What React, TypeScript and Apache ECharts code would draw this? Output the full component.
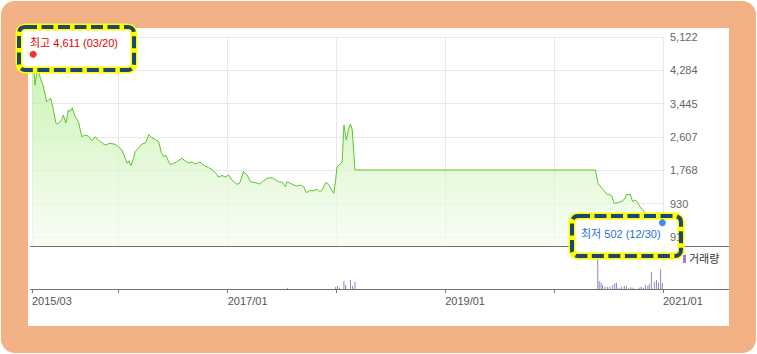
import React, { useEffect, useRef } from 'react';
import * as echarts from 'echarts';

const priceDates = [
  '2015-03-16', '2015-03-20', '2015-03-26', '2015-04-04', '2015-04-12', '2015-04-23', '2015-05-04', '2015-05-12',
  '2015-05-18', '2015-05-27', '2015-06-04', '2015-06-12', '2015-06-24', '2015-06-29', '2015-07-08', '2015-07-16',
  '2015-07-22', '2015-07-29', '2015-08-08', '2015-08-19', '2015-08-30', '2015-09-10', '2015-09-21', '2015-10-03',
  '2015-10-14', '2015-10-28', '2015-11-16', '2015-12-03', '2015-12-20', '2015-12-31', '2016-01-12', '2016-01-23',
  '2016-01-30', '2016-02-04', '2016-02-11', '2016-02-20', '2016-02-25', '2016-03-07', '2016-03-19', '2016-03-30',
  '2016-04-05', '2016-04-11', '2016-04-21', '2016-05-03', '2016-05-14', '2016-05-23', '2016-05-31', '2016-06-07',
  '2016-06-14', '2016-06-22', '2016-07-03', '2016-07-14', '2016-07-31', '2016-08-10', '2016-08-22', '2016-09-03',
  '2016-09-14', '2016-09-29', '2016-10-14', '2016-10-28', '2016-11-09', '2016-11-20', '2016-12-01', '2016-12-13',
  '2016-12-24', '2017-01-04', '2017-01-15', '2017-02-01', '2017-02-10', '2017-02-23', '2017-03-07', '2017-03-18',
  '2017-04-04', '2017-04-18', '2017-05-02', '2017-05-13', '2017-05-30', '2017-06-10', '2017-06-21', '2017-07-03',
  '2017-07-14', '2017-07-19', '2017-07-30', '2017-08-11', '2017-08-22', '2017-09-02', '2017-09-13', '2017-09-22',
  '2017-10-03', '2017-10-17', '2017-10-28', '2017-11-06', '2017-11-14', '2017-11-25', '2017-12-06', '2017-12-15',
  '2017-12-23', '2017-12-29', '2018-01-03', '2018-01-14', '2018-01-20', '2018-01-26', '2018-02-03', '2018-02-11',
  '2018-02-17', '2018-02-23', '2018-03-04', '2020-05-19', '2020-05-28', '2020-06-08', '2020-06-20', '2020-06-29',
  '2020-07-05', '2020-07-13', '2020-07-21', '2020-08-02', '2020-08-13', '2020-08-24', '2020-09-01', '2020-09-08',
  '2020-09-13', '2020-09-21', '2020-09-29', '2020-10-06', '2020-10-14', '2020-10-25', '2020-11-03', '2020-11-15',
  '2020-11-28', '2020-12-12', '2020-12-30',
];
const priceValues = [
  4470, 4611, 3915, 4393, 4116, 3889, 3487, 3550,
  3580, 3286, 2959, 2934, 3047, 3160, 2959, 3286,
  3248, 3344, 3117, 2991, 2614, 2657, 2632, 2513,
  2614, 2506, 2405, 2448, 2423, 2362, 2279, 2071,
  1945, 2010, 1885, 2071, 2237, 2322, 2430, 2456,
  2549, 2669, 2589, 2544, 2493, 2217, 2111, 2154,
  2028, 1915, 1945, 1985, 2071, 2015, 1953, 1978,
  1927, 1978, 1890, 1839, 1789, 1713, 1600, 1638,
  1600, 1651, 1525, 1417, 1442, 1734, 1651, 1482,
  1457, 1424, 1507, 1568, 1583, 1525, 1482, 1467,
  1356, 1482, 1442, 1399, 1374, 1399, 1356, 1205,
  1256, 1256, 1291, 1231, 1273, 1457, 1417, 1273,
  1190, 1520, 1859, 1927, 1985, 2908, 2531, 2825,
  2934, 2783, 1776, 1776, 1442, 1336, 1230, 1148,
  1165, 1122, 939, 954, 979, 1039, 1165, 1148,
  1173, 979, 1022, 979, 871, 770, 702, 644,
  619, 544, 502,
];

const volumeDates = [
  '2017-07-21', '2017-12-29', '2018-01-04', '2018-01-11', '2018-01-26', '2018-02-01', '2018-02-17', '2018-02-24',
  '2018-03-04', '2020-05-27', '2020-06-01', '2020-06-07', '2020-06-12', '2020-06-20', '2020-06-29', '2020-07-07',
  '2020-07-16', '2020-07-23', '2020-07-29', '2020-08-07', '2020-08-15', '2020-08-24', '2020-08-31', '2020-09-08',
  '2020-09-15', '2020-09-23', '2020-10-13', '2020-10-19', '2020-10-27', '2020-11-03', '2020-11-11', '2020-11-16',
  '2020-11-23', '2020-12-03', '2020-12-10', '2020-12-17', '2020-12-24', '2020-12-30',
];
const volumeValues = [
  13, 20, 30, 13, 80, 40, 90, 30,
  73, 360, 80, 63, 40, 23, 23, 23,
  40, 57, 63, 13, 23, 30, 30, 7,
  17, 13, 13, 23, 13, 40, 30, 50,
  173, 73, 90, 63, 200, 60,
];

const yTickValues = [91, 930, 1768, 2607, 3445, 4284, 5122];
const xStartDate = '2015-03-16';
const xEndDate = '2021-01-01';
const xGridDates = ['2015-03-16', '2016-01-01', '2017-01-01', '2018-01-01', '2019-01-01', '2020-01-01', '2021-01-01'];
const xLabelDates = ['2015-03-16', '2017-01-01', '2019-01-01', '2021-01-01'];

const highDate = '2015-03-20';
const highValue = 4611;
const highText = '최고 4,611 (03/20)';
const lowDate = '2020-12-30';
const lowValue = 502;
const lowText = '최저 502 (12/30)';
const volumeLegend = '거래량';

const ts = (d: string) => Date.parse(d + 'T00:00:00Z');
const FONT = '"Liberation Sans", "Noto Sans CJK KR", sans-serif';

export default function App() {
  const ref = useRef<HTMLDivElement>(null);

  useEffect(() => {
    if (!ref.current) return;
    const chart = echarts.init(ref.current, undefined, { renderer: 'svg' });
    const xMin = ts(xStartDate);
    const xMax = ts(xEndDate);
    const gridVals = xGridDates.map(ts);
    const labelVals = xLabelDates.map(ts);

    const option: any = {
      animation: false,
      grid: [
        { left: 32, right: 94, top: 37, height: 209.5, containLabel: false, outerBoundsMode: 'none' },
        { left: 32, right: 94, top: 247, height: 42, containLabel: false, outerBoundsMode: 'none' },
      ],
      xAxis: [
        {
          type: 'value', gridIndex: 0, min: xMin, max: xMax,
          axisLine: { show: false },
          axisTick: { show: false, customValues: gridVals },
          axisLabel: { show: false },
          splitLine: { show: true, lineStyle: { color: '#e8e8e8', width: 1 } },
        },
        {
          type: 'value', gridIndex: 1, min: xMin, max: xMax,
          axisLine: { show: false },
          axisTick: { show: true, customValues: gridVals, length: 4, inside: false, lineStyle: { color: '#777', width: 1 } },
          axisLabel: {
            customValues: labelVals,
            formatter: (v: number) => {
              const d = new Date(v);
              return d.getUTCFullYear() + '/' + String(d.getUTCMonth() + 1).padStart(2, '0');
            },
            color: '#555', fontSize: 11, fontFamily: FONT, align: 'left', margin: 6,
          },
          splitLine: { show: false },
        },
      ],
      yAxis: [
        {
          type: 'value', gridIndex: 0, min: -148, max: 5122, position: 'right',
          axisLine: { show: false },
          axisTick: { show: false, customValues: yTickValues },
          axisLabel: { show: false },
          splitLine: { show: true, lineStyle: { color: '#e8e8e8', width: 1 } },
        },
        {
          type: 'value', gridIndex: 0, min: -148, max: 5122, position: 'right', z: 10,
          axisLine: { show: false },
          axisTick: { show: false },
          axisLabel: {
            customValues: yTickValues,
            formatter: (v: number) => Math.round(v).toLocaleString('en-US'),
            color: '#666', fontSize: 11, fontFamily: FONT, margin: 7,
          },
          splitLine: { show: false },
        },
        { type: 'value', gridIndex: 1, min: 0, max: 420, show: false, splitLine: { show: false } },
      ],
      series: [
        {
          type: 'line', xAxisIndex: 0, yAxisIndex: 0, z: 2,
          data: priceDates.map((d, i) => [ts(d), priceValues[i]]),
          showSymbol: false, symbol: 'none',
          lineStyle: { color: '#5dc52a', width: 1 },
          areaStyle: {
            origin: 'start',
            color: new echarts.graphic.LinearGradient(0, 0, 0, 1, [
              { offset: 0, color: '#b6ed95' },
              { offset: 1, color: '#f6fdf1' },
            ]),
          },
        },
        {
          type: 'scatter', xAxisIndex: 0, yAxisIndex: 0, z: 8,
          data: [[ts(highDate), highValue]], symbolSize: 7, symbolOffset: [0, -3],
          itemStyle: { color: '#f00000' },
        },
        {
          type: 'scatter', xAxisIndex: 0, yAxisIndex: 0, z: 8,
          data: [[ts(lowDate), lowValue]], symbolSize: 7, symbolOffset: [0, 2],
          itemStyle: { color: '#1b6fe0' },
        },
        {
          type: 'bar', xAxisIndex: 1, yAxisIndex: 2, z: 2,
          data: volumeDates.map((d, i) => [ts(d), volumeValues[i]]),
          barWidth: 1,
          itemStyle: { color: '#9a80c8' },
        },
      ],
      graphic: {
        elements: [
          { type: 'rect', silent: true, z: -100, shape: { x: 1, y: 1, width: 755, height: 352, r: 14 }, style: { fill: '#F3B285' } },
          { type: 'rect', silent: true, z: -99, shape: { x: 28, y: 28, width: 701, height: 298 }, style: { fill: '#ffffff' } },
          { type: 'line', silent: true, z: 3, shape: { x1: 30, y1: 246.5, x2: 729, y2: 246.5 }, style: { stroke: '#707070', lineWidth: 1 } },
          { type: 'line', silent: true, z: 3, shape: { x1: 30, y1: 289.5, x2: 729, y2: 289.5 }, style: { stroke: '#707070', lineWidth: 1 } },
          { type: 'rect', silent: true, z: 5, shape: { x: 19, y: 27, width: 115, height: 43, r: 6 }, style: { fill: '#ffffff', stroke: '#ffff00', lineWidth: 7 } },
          { type: 'rect', silent: true, z: 5, shape: { x: 572, y: 216, width: 109, height: 40, r: 6 }, style: { fill: '#ffffff', stroke: '#ffff00', lineWidth: 7 } },
          { type: 'rect', silent: true, z: 20, shape: { x: 19, y: 27, width: 115, height: 43, r: 6 }, style: { fill: 'none', stroke: '#1d4670', lineWidth: 4, lineDash: [12, 4.5] } },
          { type: 'rect', silent: true, z: 20, shape: { x: 572, y: 216, width: 109, height: 40, r: 6 }, style: { fill: 'none', stroke: '#1d4670', lineWidth: 4, lineDash: [12, 4.5] } },
          { type: 'text', silent: true, z: 9, x: 30, y: 37, style: { text: highText, fill: '#e60000', fontSize: 11, fontFamily: FONT } },
          { type: 'text', silent: true, z: 9, x: 581, y: 228, style: { text: lowText, fill: '#1f6fd6', fontSize: 11, fontFamily: FONT } },
          { type: 'rect', silent: true, z: 9, shape: { x: 683, y: 255, width: 3, height: 8 }, style: { fill: '#9a80c8' } },
          { type: 'text', silent: true, z: 9, x: 689, y: 253.5, style: { text: volumeLegend, fill: '#333', fontSize: 11, fontFamily: FONT } },
        ],
      },
    };
    chart.setOption(option);
    return () => chart.dispose();
  }, []);

  return (
    <div
      ref={ref}
      style={{ position: 'absolute', left: 0, top: 0, width: 757, height: 354, background: '#fff' }}
    />
  );
}
